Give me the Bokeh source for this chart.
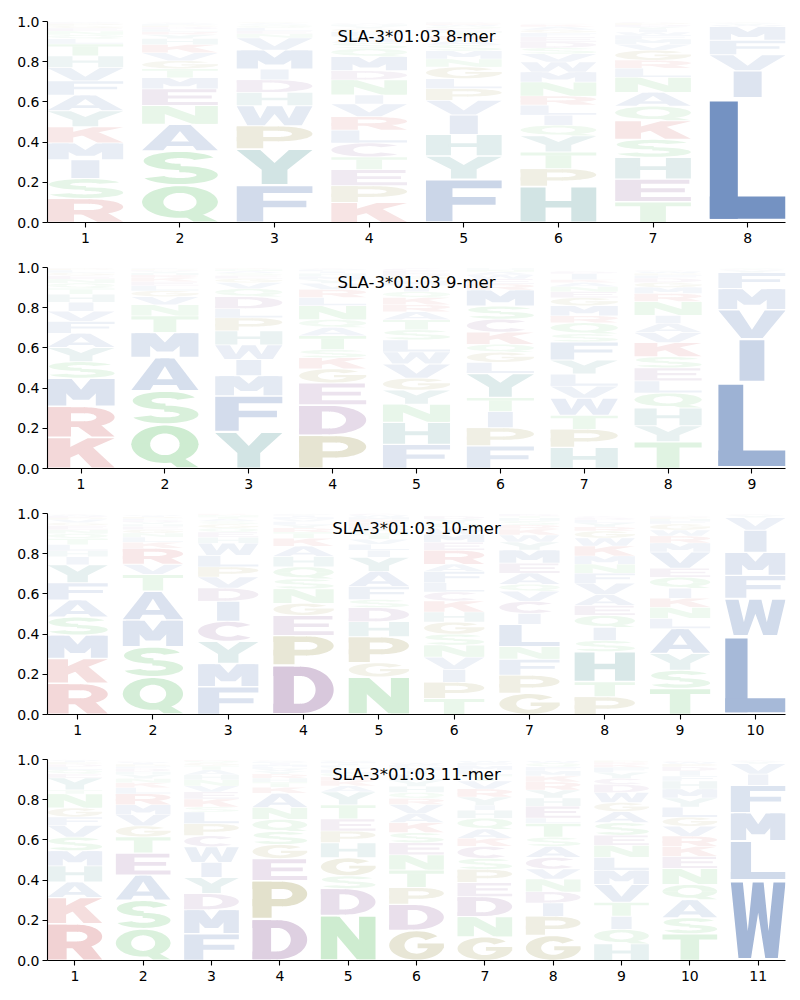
import numpy as np
from bokeh.plotting import figure
from bokeh.layouts import column
from bokeh.models import Range1d, FixedTicker, PrintfTickFormatter, Label, ColumnDataSource
from bokeh.embed import file_html
from bokeh.resources import INLINE

# ---------------- data (letter stacks, bottom -> top) ----------------
titles = ["SLA-3*01:03 8-mer", "SLA-3*01:03 9-mer", "SLA-3*01:03 10-mer", "SLA-3*01:03 11-mer"]

mer8_letters = ["RSIMKYAFVHTLQNEGPDWC", "QSANEMTGVKHYRLDPFIWC", "FYPWHDIMVNELQSAGTKRC",
                "KPETCLRVINDMQSAFGYHW", "FYHIVPLGNMSAKTEQWRDC", "HPTYQILRNMWVSDEFGAKC",
                "TEHSKQANLRGVMFWIYDPC", "LIVFMWYACT"]
mer8_heights = [
    [.119, .10, .093, .083, .081, .08, .078, .071, .066, .058, .06, .025, .02, .018, .015, .012, .01, .006, .003, .002],
    [.186, .17, .133, .093, .083, .055, .045, .04, .04, .04, .03, .02, .015, .012, .01, .008, .006, .004, .003, .002],
    [.186, .18, .115, .1, .066, .063, .053, .095, .06, .02, .015, .015, .01, .008, .006, .004, .002, .001, .001, .001],
    [.1, .083, .08, .063, .07, .063, .068, .063, .045, .075, .045, .07, .04, .03, .03, .025, .015, .012, .008, .005],
    [.216, .115, .107, .097, .073, .058, .05, .058, .04, .04, .03, .025, .02, .02, .015, .012, .008, .006, .005, .003],
    [.18, .088, .083, .08, .053, .05, .05, .045, .07, .05, .05, .04, .03, .03, .025, .02, .015, .015, .01, .005],
    [.103, .113, .108, .09, .092, .073, .068, .075, .045, .04, .05, .03, .025, .02, .015, .015, .012, .01, .008, .005],
    [.62, .135, .08, .072, .068, .008, .006, .004, .003, .002],
]

mer9_letters = ["KRMSYAFVIHTQNEGLPDWC", "QSAMTNVGLEKRHYDPFIWC", "YFMIWHPLDQVGESANTKRC",
                "PDEGKSTAQNLRVYMHIFWC", "FHNYGVWLSTARKQIMPDEC", "FPITYLGQKCSMREWANHDV",
                "HPTWVLYFSQRMGENAKIDC", "TYHQLESKVAINRMGDFPWC", "LIVMFYWCAT"]
mer9_heights = [
    [.155, .154, .14, .083, .07, .07, .06, .05, .045, .04, .03, .025, .02, .018, .015, .012, .008, .003, .001, .001],
    [.22, .166, .166, .125, .083, .055, .04, .03, .025, .02, .018, .015, .01, .008, .006, .005, .003, .002, .001, .001],
    [.182, .18, .1, .08, .073, .07, .065, .045, .06, .04, .03, .02, .015, .012, .01, .008, .005, .003, .001, .001],
    [.166, .15, .11, .07, .055, .04, .07, .04, .04, .07, .04, .04, .03, .02, .015, .015, .01, .008, .004, .003],
    [.12, .11, .09, .07, .06, .07, .06, .06, .05, .05, .04, .035, .035, .03, .03, .025, .02, .015, .015, .01],
    [.113, .09, .08, .07, .12, .055, .05, .04, .06, .065, .065, .08, .03, .025, .02, .015, .01, .008, .003, .001],
    [.105, .09, .07, .085, .06, .06, .07, .09, .04, .055, .035, .05, .04, .03, .025, .02, .015, .03, .008, .005],
    [.133, .08, .088, .075, .06, .065, .055, .07, .05, .045, .04, .07, .04, .03, .025, .02, .015, .01, .01, .005],
    [.43, .215, .145, .105, .08, .01, .005, .003, .002, .002],
]

mer10_letters = ["RKMSAFYIHLTQNEGVPDWC", "QSMATVRKLNGEHYDFPIWC", "FMYCIDVPLWHEQGSATNKR",
                 "DPEGNSQHAKTRYLVMIFWC", "NGPHDSFAYILVTQEKRMWC", "TPIVNSGHKCLFAREMWQYD",
                 "GPFNLICVQAEMYWKRSHTD", "PTHSIQEAVFNMKWGRYLDC", "TSYALNKIQEVMRWGFHPDC", "LWFMIVYAC"]
mer10_heights = [
    [.155, .124, .116, .09, .085, .085, .09, .04, .03, .03, .03, .025, .02, .02, .015, .015, .01, .008, .005, .003],
    [.187, .15, .133, .144, .083, .05, .08, .03, .025, .02, .018, .015, .012, .01, .01, .008, .008, .005, .003, .002],
    [.138, .116, .11, .1, .1, .065, .055, .05, .058, .06, .03, .025, .02, .02, .015, .012, .01, .008, .005, .003],
    [.245, .148, .1, .06, .072, .05, .06, .052, .05, .04, .03, .02, .018, .015, .012, .01, .008, .005, .003, .002],
    [.187, .07, .13, .075, .07, .04, .065, .075, .07, .035, .03, .025, .025, .02, .02, .018, .015, .012, .01, .008],
    [.08, .08, .065, .06, .06, .055, .06, .05, .055, .045, .045, .057, .035, .07, .04, .04, .03, .025, .02, .015],
    [.105, .09, .08, .063, .11, .055, .06, .05, .035, .055, .05, .065, .04, .035, .03, .02, .02, .015, .01, .008],
    [.088, .075, .15, .055, .065, .06, .05, .055, .055, .05, .045, .04, .05, .04, .035, .02, .02, .015, .01, .008],
    [.13, .09, .083, .125, .05, .055, .045, .05, .055, .045, .08, .045, .035, .03, .03, .015, .01, .008, .005, .003],
    [.39, .187, .115, .115, .11, .063, .01, .005, .003],
]

mer11_letters = ["RKAHMSVFGNTYEQLDPIWC", "QSAETGVMRLKNYHDFPIWC", "FMDYIWCPLSKEVNHATGQR",
                 "DPEGSQNAKTHRYVLMIFWC", "NDSGHPETYAKRQLVFIMWC", "GDPTNESKAVRQHYLIMFWC",
                 "GNDEPSCKAQHIYRVTLMFW", "GPIDNVCASTLEHYRKMFQW", "HQITVMLNESAGWDCYFKRP",
                 "TSAQNEKRVGLYMHFIDPWC", "WLMFIVYAC"]
mer11_heights = [
    [.183, .13, .078, .08, .075, .068, .058, .042, .045, .07, .02, .06, .02, .02, .015, .012, .01, .008, .004, .002],
    [.158, .142, .125, .11, .08, .055, .055, .05, .055, .03, .025, .02, .02, .015, .015, .01, .01, .008, .005, .004],
    [.133, .12, .08, .08, .075, .078, .055, .06, .058, .025, .04, .035, .03, .03, .025, .025, .02, .015, .01, .005],
    [.207, .19, .11, .07, .065, .06, .06, .07, .03, .025, .02, .02, .015, .012, .01, .01, .008, .006, .004, .003],
    [.225, .133, .063, .09, .075, .058, .06, .07, .065, .03, .025, .02, .02, .015, .012, .01, .01, .008, .005, .003],
    [.15, .13, .083, .088, .075, .06, .05, .05, .045, .045, .03, .03, .03, .03, .03, .02, .015, .012, .008, .005],
    [.118, .1, .1, .07, .065, .055, .06, .04, .045, .055, .04, .025, .04, .04, .04, .03, .025, .02, .015, .01],
    [.125, .095, .067, .055, .063, .05, .058, .055, .045, .07, .025, .06, .04, .04, .04, .03, .025, .02, .02, .01],
    [.083, .072, .065, .07, .088, .07, .065, .06, .05, .063, .055, .045, .05, .04, .03, .03, .025, .015, .01, .008],
    [.133, .08, .09, .075, .08, .06, .05, .05, .05, .045, .05, .045, .045, .04, .025, .025, .02, .015, .01, .005],
    [.40, .195, .14, .137, .055, .052, .01, .005, .003],
]

# ---------------- letter shapes (unit box) ----------------
def arc(cx, cy, rxo, ryo, rxi, ryi, a0, a1, n=40):
    t = np.radians(np.linspace(a0, a1, n))
    xo = cx + rxo * np.cos(t); yo = cy + ryo * np.sin(t)
    tr = t[::-1]
    xi = cx + rxi * np.cos(tr); yi = cy + ryi * np.sin(tr)
    return list(zip(np.concatenate([xo, xi]), np.concatenate([yo, yi])))

def rect(x0, y0, x1, y1):
    return [(x0, y0), (x1, y0), (x1, y1), (x0, y1)]

P_PARTS = [rect(0, 0, 0.35, 1), rect(0, 0.8, 0.56, 1), rect(0, 0.32, 0.56, 0.52),
           arc(0.55, 0.66, 0.45, 0.34, 0.18, 0.14, -91, 91)]

GLYPHS = {
    "A": [[(0, 0), (0.28, 0), (0.57, 1), (0.36, 1)], [(0.72, 0), (1, 0), (0.64, 1), (0.43, 1)],
          [(0.15, 0.16), (0.85, 0.16), (0.78, 0.34), (0.22, 0.34)]],
    "C": [arc(0.5, 0.5, 0.5, 0.5, 0.21, 0.29, 42, 318)],
    "D": [rect(0, 0, 0.34, 1), rect(0, 0, 0.46, 0.2), rect(0, 0.8, 0.46, 1),
          arc(0.45, 0.5, 0.55, 0.5, 0.25, 0.3, -91, 91)],
    "E": [[(0, 0), (1, 0), (1, 0.19), (0.34, 0.19), (0.34, 0.42), (0.92, 0.42), (0.92, 0.6),
           (0.34, 0.6), (0.34, 0.81), (0.98, 0.81), (0.98, 1), (0, 1)]],
    "F": [[(0, 0), (0.35, 0), (0.35, 0.4), (0.92, 0.4), (0.92, 0.59), (0.35, 0.59), (0.35, 0.81),
           (1, 0.81), (1, 1), (0, 1)]],
    "G": [arc(0.5, 0.5, 0.5, 0.5, 0.22, 0.29, 40, 362), rect(0.52, 0.40, 1.0, 0.57)],
    "H": [rect(0, 0, 0.33, 1), rect(0.67, 0, 1, 1), rect(0.3, 0.41, 0.7, 0.6)],
    "I": [rect(0.315, 0, 0.685, 1)],
    "K": [rect(0, 0, 0.34, 1), [(0.3, 0.3), (1, 1), (0.6, 1), (0.3, 0.66)],
          [(0.42, 0.56), (0.66, 0), (1.0, 0), (0.67, 0.7)]],
    "L": [rect(0, 0, 0.37, 1), rect(0, 0, 1, 0.19)],
    "M": [rect(0, 0, 0.28, 1), rect(0.72, 0, 1, 1),
          [(0.05, 1), (0.36, 1), (0.5, 0.6), (0.64, 1), (0.95, 1), (0.62, 0.22), (0.38, 0.22)]],
    "N": [rect(0, 0, 0.3, 1), rect(0.7, 0, 1, 1), [(0, 1), (0.34, 1), (1, 0), (0.66, 0)]],
    "P": P_PARTS,
    "Q": [arc(0.5, 0.55, 0.5, 0.45, 0.22, 0.26, -2, 182), arc(0.5, 0.55, 0.5, 0.45, 0.22, 0.26, 178, 362),
          [(0.5, 0.22), (0.78, 0.22), (1.0, 0.0), (0.68, 0.0)]],
    "R": P_PARTS + [[(0.38, 0.45), (0.66, 0), (1, 0), (0.74, 0.5)]],
    "S": [arc(0.5, 0.72, 0.48, 0.28, 0.2, 0.09, 22, 272), arc(0.5, 0.28, 0.5, 0.28, 0.22, 0.09, -160, 92)],
    "T": [rect(0, 0.8, 1, 1), rect(0.33, 0, 0.67, 0.82)],
    "V": [[(0, 1), (0.31, 1), (0.5, 0.3), (0.69, 1), (1, 1), (0.66, 0), (0.34, 0)]],
    "W": [[(0, 1), (0.22, 1), (0.31, 0.36), (0.4, 1), (0.6, 1), (0.69, 0.36), (0.78, 1), (1, 1),
           (0.86, 0), (0.63, 0), (0.5, 0.6), (0.37, 0), (0.14, 0)]],
    "Y": [[(0, 1), (0.31, 1), (0.5, 0.62), (0.69, 1), (1, 1), (0.67, 0.42), (0.67, 0), (0.33, 0), (0.33, 0.42)]],
}

# ---------------- colours ----------------
BLUE, GREEN, RED = (76, 114, 176), (90, 190, 100), (200, 75, 78)
PURPLE, OLIVE, TEAL = (135, 85, 148), (146, 138, 59), (72, 145, 145)
BASE = {}
for k in "AILMVFW": BASE[k] = BLUE
for k in "STNQ": BASE[k] = GREEN
for k in "KR": BASE[k] = RED
for k in "DEC": BASE[k] = PURPLE
for k in "PG": BASE[k] = OLIVE
for k in "HY": BASE[k] = TEAL

def blend(rgb, a):
    return "#%02x%02x%02x" % tuple(int(round(255 - a * (255 - c))) for c in rgb)

panels = [(titles[0], mer8_letters, mer8_heights), (titles[1], mer9_letters, mer9_heights),
          (titles[2], mer10_letters, mer10_heights), (titles[3], mer11_letters, mer11_heights)]
top_borders = [21, 18, 18, 18]
BOTTOM = 27

FONT = "DejaVu Sans"
figs = []
for k, (title, letters, heights) in enumerate(panels):
    n = len(letters)
    tb = top_borders[k]
    p = figure(width=792, height=tb + 201 + BOTTOM, x_range=Range1d(0.6, n + 0.4), y_range=Range1d(0, 1),
               output_backend="svg", toolbar_location=None,
               min_border_left=47, min_border_right=7, min_border_top=tb, min_border_bottom=BOTTOM)
    xs, ys, cols = [], [], []
    for i, (lets, hs) in enumerate(zip(letters, heights)):
        c = i + 1
        y0 = 0.0
        for L, h in zip(lets, hs):
            a = min(1.0, 0.03 + 1.2 * h)
            col = blend(BASE[L], a)
            pad = 0.03 * h
            yb, yt = y0 + pad, y0 + h - pad
            for poly in GLYPHS[L]:
                xs.append([c - 0.4 + px * 0.8 for px, py in poly])
                ys.append([yb + py * (yt - yb) for px, py in poly])
                cols.append(col)
            y0 += h
    src = ColumnDataSource(dict(xs=xs, ys=ys, color=cols))
    p.patches("xs", "ys", source=src, fill_color="color", line_color=None)

    p.xgrid.visible = False
    p.ygrid.visible = False
    p.outline_line_color = None
    p.background_fill_color = "white"
    p.border_fill_color = "white"
    p.xaxis.ticker = FixedTicker(ticks=list(range(1, n + 1)))
    p.yaxis.ticker = FixedTicker(ticks=[0, 0.2, 0.4, 0.6, 0.8, 1.0])
    p.yaxis.formatter = PrintfTickFormatter(format="%.1f")
    for ax in (p.xaxis, p.yaxis):
        ax.minor_tick_line_color = None
        ax.major_tick_in = 0
        ax.major_tick_out = 5
        ax.axis_line_width = 1.1
        ax.major_tick_line_width = 1.1
        ax.major_label_text_font = FONT
        ax.major_label_text_font_size = "14px"
        ax.major_label_text_color = "black"
        ax.major_label_standoff = 3
    p.xaxis.major_label_standoff = 5
    p.add_layout(Label(x=(n + 1) / 2, y=0.925, text=title, text_align="center",
                       text_baseline="middle", text_font=FONT, text_font_size="16.5px",
                       text_color="black"))
    figs.append(p)

layout = column(*figs, spacing=0)
open("out.html", "w").write(file_html(layout, INLINE))
